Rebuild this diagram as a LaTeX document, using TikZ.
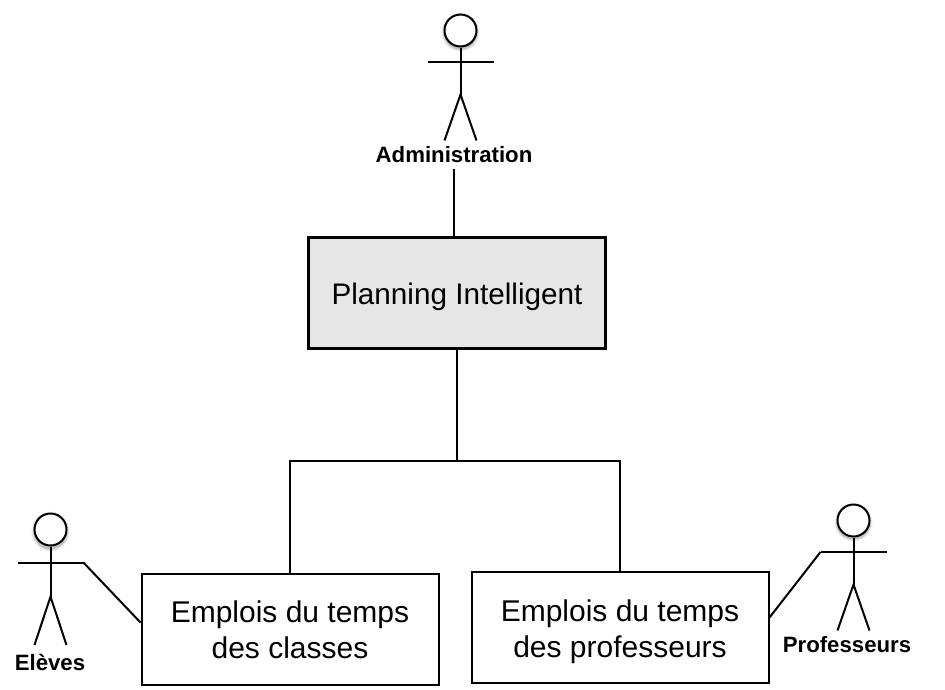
\documentclass[tikz,border=0pt]{standalone}
\usepackage{fontspec}
\setmainfont{Liberation Sans}
\usetikzlibrary{calc}
\definecolor{boxgray}{HTML}{E6E6E6}
\tikzset{
  px/.style={x=1pt,y=-1pt},
  link/.style={draw=black,line width=2pt},
  limb/.style={draw=black,line width=2pt},
  mainbox/.style={draw=black,line width=3.4pt,fill=boxgray,minimum width=297pt,minimum height=111pt,inner sep=0pt,align=center,font=\fontsize{29.7}{34}\selectfont},
  subbox/.style={draw=black,line width=2pt,fill=white,minimum width=297pt,minimum height=111pt,inner sep=0pt,align=center,font=\fontsize{30}{36}\selectfont},
  actorlabel/.style={inner sep=0pt,font=\fontsize{22.2}{26}\selectfont\bfseries},
  headshape/.style={circle,draw=black,line width=2pt,fill=white,minimum size=32pt,inner sep=0pt},
  actor/.pic={
    \foreach \r/\o in {19/0.06,18/0.08,17/0.12}{\fill[black,opacity=\o] (0,2) circle (\r pt);}
    \node[headshape] (-head) at (0,0) {};
    \draw[limb] (-head.south) -- (0,64) coordinate (-hip);
    \draw[limb] (-33,31.5) coordinate (-armL) -- (33,31.5) coordinate (-armR);
    \draw[limb] (-16,110) coordinate (-footL) -- (-hip) -- (16,110) coordinate (-footR);
  }
}
\begin{document}
\begin{tikzpicture}[px]
\useasboundingbox (0,0) rectangle (945,689);
\pic (a1) at (460.5,30.5) {actor};
\pic[yscale=1.05] (a2) at (50.5,529.5) {actor};
\pic (a3) at (853.5,520.5) {actor};
\node[actorlabel] (adminlabel) at (454,155) {Administration};
\node[actorlabel] (eleveslabel) at (50,662) {Elèves};
\node[actorlabel] (proflabel) at (847,645) {Professeurs};
\node[mainbox] (planning) at (457,293) {\rule{0pt}{30pt}Planning Intelligent};
\node[subbox] (classes) at (290,629.5) {Emplois du temps\\des classes};
\node[subbox] (profs) at (620,627.5) {\rule{0pt}{30pt}Emplois du temps\\des professeurs};
\coordinate (bus) at (457,461);
\draw[link] ($(adminlabel.south)+(0,6)$) -- (adminlabel.south |- planning.north);
\draw[link] (planning.south) -- (bus);
\draw[link] (classes.north) |- (bus);
\draw[link] (profs.north) |- (bus);
\draw[link] (a2-armR) -- ($(classes.west)+(0,-7)$);
\draw[link] (a3-armL) -- ($(profs.east)+(0,-10)$);
\end{tikzpicture}
\end{document}
